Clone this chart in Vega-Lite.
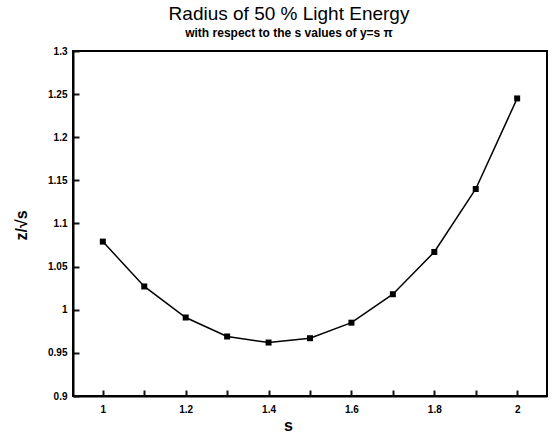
{
  "$schema": "https://vega.github.io/schema/vega-lite/v6.json",
  "width": 474,
  "height": 345,
  "autosize": {"type": "none"},
  "padding": {"left": 73, "top": 51, "right": 7, "bottom": 38},
  "background": "white",
  "title": {
    "text": "Radius of 50 % Light Energy",
    "subtitle": "with respect to the s values of y=s π",
    "anchor": "middle",
    "frame": "group",
    "dx": -21,
    "offset": 7,
    "font": "Liberation Sans",
    "fontSize": 19,
    "fontWeight": "normal",
    "color": "black",
    "subtitleFont": "Liberation Sans",
    "subtitleFontSize": 12,
    "subtitleFontWeight": "bold",
    "subtitleColor": "black",
    "subtitlePadding": 4
  },
  "config": {
    "view": {"stroke": "black", "strokeWidth": 2}
  },
  "data": {
    "values": [
      {"s": 1.0, "r": 1.079},
      {"s": 1.1, "r": 1.027},
      {"s": 1.2, "r": 0.991},
      {"s": 1.3, "r": 0.969},
      {"s": 1.4, "r": 0.962},
      {"s": 1.5, "r": 0.967},
      {"s": 1.6, "r": 0.985},
      {"s": 1.7, "r": 1.018},
      {"s": 1.8, "r": 1.067},
      {"s": 1.9, "r": 1.140},
      {"s": 2.0, "r": 1.245}
    ]
  },
  "mark": {
    "type": "line",
    "color": "black",
    "strokeWidth": 1.5,
    "point": {"shape": "square", "filled": true, "color": "black", "size": 36, "opacity": 1}
  },
  "encoding": {
    "x": {
      "field": "s",
      "type": "quantitative",
      "scale": {"domain": [0.928, 2.072], "nice": false, "zero": false},
      "axis": {
        "title": "s",
        "domainColor": "black",
        "domainWidth": 2,
        "gridOpacity": 0,
        "ticks": true,
        "tickOpacity": 1,
        "tickSize": -6,
        "tickColor": "#111111",
        "tickWidth": 2,
        "zindex": 1,
        "values": [1, 1.1, 1.2, 1.3, 1.4, 1.5, 1.6, 1.7, 1.8, 1.9, 2],
        "labelExpr": "abs(round(datum.value*10) % 2) == 1 ? '' : format(datum.value, '.1~f')",
        "labelPadding": 14,
        "labelFont": "Liberation Sans",
        "labelFontSize": 10,
        "labelFontWeight": "bold",
        "labelColor": "black",
        "titleFont": "Liberation Sans",
        "titleFontSize": 16,
        "titleFontWeight": "bold",
        "titleColor": "black",
        "titleX": 215,
        "titleY": 34,
        "titleBaseline": "alphabetic"
      }
    },
    "y": {
      "field": "r",
      "type": "quantitative",
      "scale": {"domain": [0.9, 1.3], "nice": false, "zero": false},
      "axis": {
        "title": "z/√s",
        "domainColor": "black",
        "domainWidth": 2,
        "gridOpacity": 0,
        "ticks": true,
        "tickOpacity": 1,
        "tickSize": -6,
        "tickColor": "#111111",
        "tickWidth": 2,
        "zindex": 1,
        "values": [0.9, 0.95, 1, 1.05, 1.1, 1.15, 1.2, 1.25, 1.3],
        "format": ".2~f",
        "labelPadding": 12,
        "labelFont": "Liberation Sans",
        "labelFontSize": 10,
        "labelFontWeight": "bold",
        "labelColor": "black",
        "titleFont": "Liberation Sans",
        "titleFontSize": 16,
        "titleFontWeight": "bold",
        "titleColor": "black",
        "titleX": -47,
        "titleY": 174,
        "titleAngle": -90,
        "titleBaseline": "alphabetic",
        "titleAlign": "center"
      }
    }
  }
}
